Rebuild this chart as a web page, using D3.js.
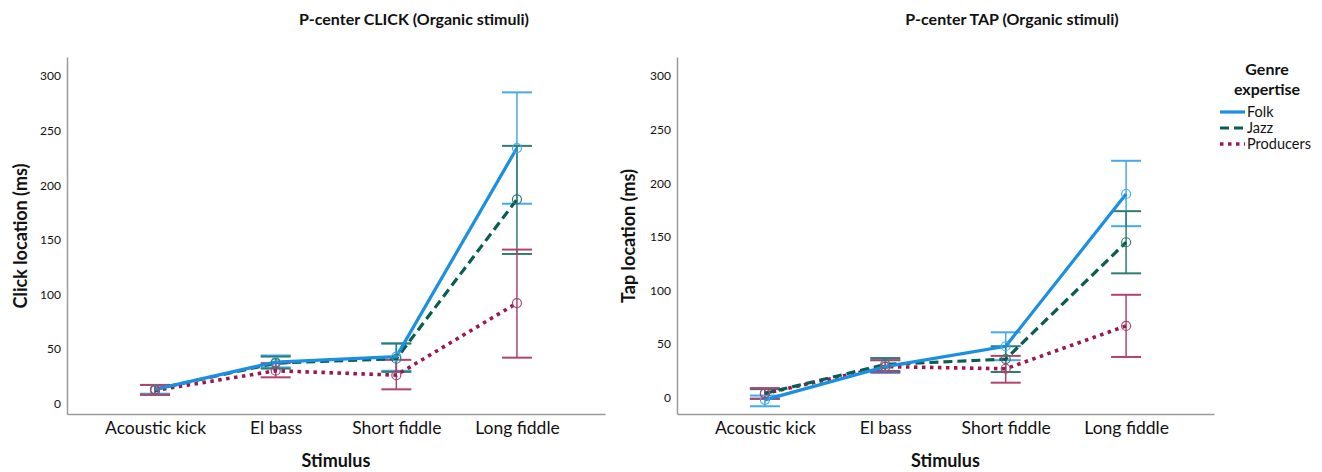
<!DOCTYPE html>
<html>
<head>
<meta charset="utf-8">
<script src="https://cdn.jsdelivr.net/npm/d3@7"></script>
<style>
  body { margin: 0; background: #fff; }
  text { font-family: Lato, "Open Sans", sans-serif; fill: #111; }
</style>
</head>
<body>
<div id="chart"></div>
<script>
// data (ms)
var stimuli = ["Acoustic kick", "El bass", "Short fiddle", "Long fiddle"];
var groups = ["Folk", "Jazz", "Producers"];
var yTicks = [0, 50, 100, 150, 200, 250, 300];

var clickFolk = [13, 38, 43, 234], clickFolkLo = [9, 33, 30, 183], clickFolkHi = [17, 44, 55, 285];
var clickJazz = [13, 37, 41, 187], clickJazzLo = [8, 32, 29, 137], clickJazzHi = [17, 43, 55, 236];
var clickProd = [12, 30, 26, 92],  clickProdLo = [8, 24, 13, 42],  clickProdHi = [17, 37, 40, 141];

var tapFolk = [-2, 29, 48, 190], tapFolkLo = [-8, 23, 35, 160], tapFolkHi = [2, 35, 61, 221];
var tapJazz = [4, 31, 36, 145],  tapJazzLo = [-1, 25, 24, 116], tapJazzHi = [8, 37, 48, 174];
var tapProd = [4, 29, 27, 67],   tapProdLo = [-1, 24, 14, 38],  tapProdHi = [9, 35, 39, 96];

var lineColor = {Folk: "#1b8fe2", Jazz: "#0b5c52", Producers: "#9b1653"};
var barColor  = {Folk: "#45aaea", Jazz: "#2f7c73", Producers: "#b0446f"};
var dash      = {Folk: null, Jazz: "9,5", Producers: "3.5,4.5"};
var lineWidth = {Folk: 3.2, Jazz: 3.2, Producers: 3.6};

var svg = d3.select("#chart").append("svg")
    .attr("width", 1322)
    .attr("height", 472);

function series(mean, lo, hi) {
  return stimuli.map(function(s, i) { return {stim: s, v: mean[i], lo: lo[i], hi: hi[i]}; });
}

function panel(cfg) {
  var x = d3.scalePoint().domain(stimuli).range([cfg.x0, cfg.x1]).padding(0.73);
  var y = d3.scaleLinear().domain(cfg.yDomain).range([414, 57]);

  svg.append("text")
      .attr("x", cfg.titleX).attr("y", 25)
      .attr("text-anchor", "middle")
      .style("font-size", "16px").style("font-weight", "bold")
      .text(cfg.title);

  var yAxis = svg.append("g")
      .attr("transform", "translate(" + cfg.x0 + ",0)")
      .call(d3.axisLeft(y).tickValues(yTicks).tickSize(0).tickSizeOuter(0).tickPadding(6));
  yAxis.selectAll("text").style("font-size", "12px").style("font-family", "Lato, sans-serif").attr("fill", "#222");

  var xAxis = svg.append("g")
      .attr("transform", "translate(0,414)")
      .call(d3.axisBottom(x).tickSize(0).tickSizeOuter(0).tickPadding(8));
  xAxis.selectAll("text").style("font-size", "17.5px").style("font-family", "Lato, sans-serif").attr("fill", "#111");

  svg.selectAll(".domain").attr("stroke", "#9a9a9a").attr("stroke-width", 1.5);

  svg.append("text")
      .attr("transform", "translate(" + cfg.yTitleX + ",236) rotate(-90)")
      .attr("text-anchor", "middle")
      .style("font-size", "18px").style("font-weight", "bold")
      .text(cfg.yTitle);

  svg.append("text")
      .attr("x", (cfg.x0 + cfg.x1) / 2).attr("y", 467)
      .attr("text-anchor", "middle")
      .style("font-size", "18px").style("font-weight", "bold")
      .text("Stimulus");

  var line = d3.line()
      .x(function(d) { return x(d.stim); })
      .y(function(d) { return y(d.v); });

  // error bars first, then lines, then hollow markers
  cfg.data.forEach(function(s) {
    var g = svg.append("g");
    g.selectAll("line.v").data(s.values).enter().append("line")
        .attr("x1", function(d) { return x(d.stim); })
        .attr("x2", function(d) { return x(d.stim); })
        .attr("y1", function(d) { return y(d.lo); })
        .attr("y2", function(d) { return y(d.hi); })
        .attr("stroke", barColor[s.name]).attr("stroke-width", 1.5);
    ["lo", "hi"].forEach(function(k) {
      g.selectAll("line." + k).data(s.values).enter().append("line")
          .attr("x1", function(d) { return x(d.stim) - 15; })
          .attr("x2", function(d) { return x(d.stim) + 15; })
          .attr("y1", function(d) { return y(d[k]); })
          .attr("y2", function(d) { return y(d[k]); })
          .attr("stroke", barColor[s.name]).attr("stroke-width", 2);
    });
  });

  cfg.data.slice().reverse().forEach(function(s) {
    svg.append("path")
        .datum(s.values)
        .attr("d", line)
        .attr("fill", "none")
        .attr("stroke", lineColor[s.name])
        .attr("stroke-width", lineWidth[s.name])
        .attr("stroke-dasharray", dash[s.name]);
  });

  cfg.data.forEach(function(s) {
    svg.append("g").selectAll("circle").data(s.values).enter().append("circle")
        .attr("cx", function(d) { return x(d.stim); })
        .attr("cy", function(d) { return y(d.v); })
        .attr("r", 4.5)
        .attr("fill", "none")
        .attr("stroke", barColor[s.name]).attr("stroke-width", 1.2);
  });
}

panel({
  title: "P-center CLICK (Organic stimuli)", titleX: 414,
  yTitle: "Click location (ms)", yTitleX: 27,
  x0: 67, x1: 605, yDomain: [-9.6, 317.4],
  data: [
    {name: "Folk", values: series(clickFolk, clickFolkLo, clickFolkHi)},
    {name: "Jazz", values: series(clickJazz, clickJazzLo, clickJazzHi)},
    {name: "Producers", values: series(clickProd, clickProdLo, clickProdHi)}
  ]
});

panel({
  title: "P-center TAP (Organic stimuli)", titleX: 1012,
  yTitle: "Tap location (ms)", yTitleX: 635,
  x0: 677, x1: 1214, yDomain: [-15.2, 317.8],
  data: [
    {name: "Folk", values: series(tapFolk, tapFolkLo, tapFolkHi)},
    {name: "Jazz", values: series(tapJazz, tapJazzLo, tapJazzHi)},
    {name: "Producers", values: series(tapProd, tapProdLo, tapProdHi)}
  ]
});

// legend
var legend = svg.append("g");
legend.append("text").attr("x", 1267).attr("y", 75).attr("text-anchor", "middle")
    .style("font-size", "16px").style("font-weight", "bold").text("Genre");
legend.append("text").attr("x", 1267).attr("y", 95).attr("text-anchor", "middle")
    .style("font-size", "16px").style("font-weight", "bold").text("expertise");
var item = legend.selectAll("g.item").data(groups).enter().append("g")
    .attr("transform", function(d, i) { return "translate(0," + (112 + i * 16) + ")"; });
item.append("line")
    .attr("x1", 1220).attr("x2", 1245)
    .attr("stroke", function(d) { return lineColor[d]; })
    .attr("stroke-width", function(d) { return lineWidth[d]; })
    .attr("stroke-dasharray", function(d) { return dash[d]; });
item.append("text")
    .attr("x", 1247).attr("dy", "0.35em")
    .style("font-size", "14.5px")
    .text(function(d) { return d; });
</script>
</body>
</html>
